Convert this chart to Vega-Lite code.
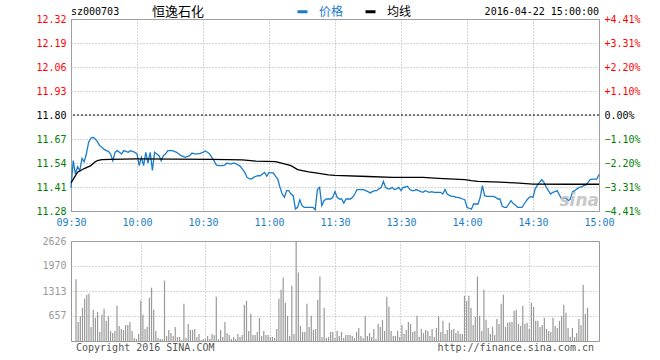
{
"$schema": "https://vega.github.io/schema/vega-lite/v6.json",
"padding": {"left": 35, "top": 5, "right": 0, "bottom": 0},
"background": "white",
"spacing": 7,
"config": {
 "view": {"stroke": "#999999", "strokeWidth": 1},
 "font": "DejaVu Sans Mono",
 "axis": {"labelFont": "DejaVu Sans Mono", "labelFontSize": 10, "ticks": false, "tickSize": 0, "domain": false, "gridColor": "#aaaaaa", "gridDash": [1, 2], "gridOpacity": 1, "title": null, "labelOverlap": false}
},
"datasets": {
 "line": [
{"t":0,"v":11.405,"s":"价格"},{"t":1,"v":11.553,"s":"价格"},{"t":2,"v":11.48,"s":"价格"},{"t":3,"v":11.52,"s":"价格"},{"t":4,"v":11.498,"s":"价格"},{"t":5,"v":11.565,"s":"价格"},{"t":6,"v":11.547,"s":"价格"},{"t":7,"v":11.59,"s":"价格"},{"t":8,"v":11.652,"s":"价格"},{"t":9,"v":11.674,"s":"价格"},
{"t":10,"v":11.679,"s":"价格"},{"t":11,"v":11.67,"s":"价格"},{"t":12,"v":11.656,"s":"价格"},{"t":13,"v":11.634,"s":"价格"},{"t":14,"v":11.625,"s":"价格"},{"t":15,"v":11.615,"s":"价格"},{"t":16,"v":11.607,"s":"价格"},{"t":17,"v":11.603,"s":"价格"},{"t":18,"v":11.589,"s":"价格"},{"t":19,"v":11.553,"s":"价格"},
{"t":20,"v":11.598,"s":"价格"},{"t":21,"v":11.607,"s":"价格"},{"t":22,"v":11.598,"s":"价格"},{"t":23,"v":11.589,"s":"价格"},{"t":24,"v":11.607,"s":"价格"},{"t":25,"v":11.603,"s":"价格"},{"t":26,"v":11.598,"s":"价格"},{"t":27,"v":11.607,"s":"价格"},{"t":28,"v":11.603,"s":"价格"},{"t":29,"v":11.598,"s":"价格"},
{"t":30,"v":11.589,"s":"价格"},{"t":31,"v":11.526,"s":"价格"},{"t":32,"v":11.571,"s":"价格"},{"t":33,"v":11.526,"s":"价格"},{"t":34,"v":11.598,"s":"价格"},{"t":35,"v":11.54,"s":"价格"},{"t":36,"v":11.598,"s":"价格"},{"t":37,"v":11.5,"s":"价格"},{"t":38,"v":11.598,"s":"价格"},{"t":39,"v":11.589,"s":"价格"},
{"t":40,"v":11.58,"s":"价格"},{"t":41,"v":11.553,"s":"价格"},{"t":42,"v":11.58,"s":"价格"},{"t":43,"v":11.59,"s":"价格"},{"t":44,"v":11.607,"s":"价格"},{"t":45,"v":11.607,"s":"价格"},{"t":46,"v":11.607,"s":"价格"},{"t":47,"v":11.603,"s":"价格"},{"t":48,"v":11.598,"s":"价格"},{"t":49,"v":11.589,"s":"价格"},
{"t":50,"v":11.58,"s":"价格"},{"t":51,"v":11.576,"s":"价格"},{"t":52,"v":11.571,"s":"价格"},{"t":53,"v":11.576,"s":"价格"},{"t":54,"v":11.58,"s":"价格"},{"t":55,"v":11.594,"s":"价格"},{"t":56,"v":11.589,"s":"价格"},{"t":57,"v":11.589,"s":"价格"},{"t":58,"v":11.589,"s":"价格"},{"t":59,"v":11.594,"s":"价格"},
{"t":60,"v":11.598,"s":"价格"},{"t":61,"v":11.605,"s":"价格"},{"t":62,"v":11.598,"s":"价格"},{"t":63,"v":11.589,"s":"价格"},{"t":64,"v":11.571,"s":"价格"},{"t":65,"v":11.553,"s":"价格"},{"t":66,"v":11.53,"s":"价格"},{"t":67,"v":11.526,"s":"价格"},{"t":68,"v":11.526,"s":"价格"},{"t":69,"v":11.526,"s":"价格"},
{"t":70,"v":11.53,"s":"价格"},{"t":71,"v":11.54,"s":"价格"},{"t":72,"v":11.535,"s":"价格"},{"t":73,"v":11.535,"s":"价格"},{"t":74,"v":11.54,"s":"价格"},{"t":75,"v":11.535,"s":"价格"},{"t":76,"v":11.529,"s":"价格"},{"t":77,"v":11.522,"s":"价格"},{"t":78,"v":11.505,"s":"价格"},{"t":79,"v":11.489,"s":"价格"},
{"t":80,"v":11.462,"s":"价格"},{"t":81,"v":11.455,"s":"价格"},{"t":82,"v":11.453,"s":"价格"},{"t":83,"v":11.462,"s":"价格"},{"t":84,"v":11.468,"s":"价格"},{"t":85,"v":11.471,"s":"价格"},{"t":86,"v":11.471,"s":"价格"},{"t":87,"v":11.48,"s":"价格"},{"t":88,"v":11.489,"s":"价格"},{"t":89,"v":11.468,"s":"价格"},
{"t":90,"v":11.489,"s":"价格"},{"t":91,"v":11.486,"s":"价格"},{"t":92,"v":11.486,"s":"价格"},{"t":93,"v":11.468,"s":"价格"},{"t":94,"v":11.453,"s":"价格"},{"t":95,"v":11.408,"s":"价格"},{"t":96,"v":11.372,"s":"价格"},{"t":97,"v":11.354,"s":"价格"},{"t":98,"v":11.39,"s":"价格"},{"t":99,"v":11.39,"s":"价格"},
{"t":100,"v":11.372,"s":"价格"},{"t":101,"v":11.363,"s":"价格"},{"t":102,"v":11.291,"s":"价格"},{"t":103,"v":11.3,"s":"价格"},{"t":104,"v":11.341,"s":"价格"},{"t":105,"v":11.309,"s":"价格"},{"t":106,"v":11.3,"s":"价格"},{"t":107,"v":11.3,"s":"价格"},{"t":108,"v":11.3,"s":"价格"},{"t":109,"v":11.3,"s":"价格"},
{"t":110,"v":11.3,"s":"价格"},{"t":111,"v":11.287,"s":"价格"},{"t":112,"v":11.396,"s":"价格"},{"t":113,"v":11.408,"s":"价格"},{"t":114,"v":11.309,"s":"价格"},{"t":115,"v":11.336,"s":"价格"},{"t":116,"v":11.345,"s":"价格"},{"t":117,"v":11.345,"s":"价格"},{"t":118,"v":11.345,"s":"价格"},{"t":119,"v":11.354,"s":"价格"},
{"t":120,"v":11.385,"s":"价格"},{"t":121,"v":11.354,"s":"价格"},{"t":122,"v":11.345,"s":"价格"},{"t":123,"v":11.345,"s":"价格"},{"t":124,"v":11.323,"s":"价格"},{"t":125,"v":11.345,"s":"价格"},{"t":126,"v":11.345,"s":"价格"},{"t":127,"v":11.345,"s":"价格"},{"t":128,"v":11.354,"s":"价格"},{"t":129,"v":11.372,"s":"价格"},
{"t":130,"v":11.396,"s":"价格"},{"t":131,"v":11.396,"s":"价格"},{"t":132,"v":11.396,"s":"价格"},{"t":133,"v":11.396,"s":"价格"},{"t":134,"v":11.39,"s":"价格"},{"t":135,"v":11.385,"s":"价格"},{"t":136,"v":11.378,"s":"价格"},{"t":137,"v":11.385,"s":"价格"},{"t":138,"v":11.39,"s":"价格"},{"t":139,"v":11.39,"s":"价格"},
{"t":140,"v":11.4,"s":"价格"},{"t":141,"v":11.408,"s":"价格"},{"t":142,"v":11.44,"s":"价格"},{"t":143,"v":11.408,"s":"价格"},{"t":144,"v":11.4,"s":"价格"},{"t":145,"v":11.4,"s":"价格"},{"t":146,"v":11.408,"s":"价格"},{"t":147,"v":11.396,"s":"价格"},{"t":148,"v":11.4,"s":"价格"},{"t":149,"v":11.408,"s":"价格"},
{"t":150,"v":11.39,"s":"价格"},{"t":151,"v":11.408,"s":"价格"},{"t":152,"v":11.41,"s":"价格"},{"t":153,"v":11.414,"s":"价格"},{"t":154,"v":11.396,"s":"价格"},{"t":155,"v":11.39,"s":"价格"},{"t":156,"v":11.39,"s":"价格"},{"t":157,"v":11.396,"s":"价格"},{"t":158,"v":11.39,"s":"价格"},{"t":159,"v":11.385,"s":"价格"},
{"t":160,"v":11.381,"s":"价格"},{"t":161,"v":11.39,"s":"价格"},{"t":162,"v":11.385,"s":"价格"},{"t":163,"v":11.381,"s":"价格"},{"t":164,"v":11.385,"s":"价格"},{"t":165,"v":11.381,"s":"价格"},{"t":166,"v":11.381,"s":"价格"},{"t":167,"v":11.381,"s":"价格"},{"t":168,"v":11.381,"s":"价格"},{"t":169,"v":11.372,"s":"价格"},
{"t":170,"v":11.396,"s":"价格"},{"t":171,"v":11.372,"s":"价格"},{"t":172,"v":11.365,"s":"价格"},{"t":173,"v":11.359,"s":"价格"},{"t":174,"v":11.359,"s":"价格"},{"t":175,"v":11.354,"s":"价格"},{"t":176,"v":11.354,"s":"价格"},{"t":177,"v":11.35,"s":"价格"},{"t":178,"v":11.345,"s":"价格"},{"t":179,"v":11.341,"s":"价格"},
{"t":180,"v":11.3,"s":"价格"},{"t":181,"v":11.295,"s":"价格"},{"t":182,"v":11.29,"s":"价格"},{"t":183,"v":11.318,"s":"价格"},{"t":184,"v":11.318,"s":"价格"},{"t":185,"v":11.318,"s":"价格"},{"t":186,"v":11.354,"s":"价格"},{"t":187,"v":11.417,"s":"价格"},{"t":188,"v":11.363,"s":"价格"},{"t":189,"v":11.359,"s":"价格"},
{"t":190,"v":11.359,"s":"价格"},{"t":191,"v":11.359,"s":"价格"},{"t":192,"v":11.359,"s":"价格"},{"t":193,"v":11.354,"s":"价格"},{"t":194,"v":11.345,"s":"价格"},{"t":195,"v":11.345,"s":"价格"},{"t":196,"v":11.305,"s":"价格"},{"t":197,"v":11.3,"s":"价格"},{"t":198,"v":11.3,"s":"价格"},{"t":199,"v":11.318,"s":"价格"},
{"t":200,"v":11.336,"s":"价格"},{"t":201,"v":11.32,"s":"价格"},{"t":202,"v":11.313,"s":"价格"},{"t":203,"v":11.3,"s":"价格"},{"t":204,"v":11.3,"s":"价格"},{"t":205,"v":11.3,"s":"价格"},{"t":206,"v":11.318,"s":"价格"},{"t":207,"v":11.336,"s":"价格"},{"t":208,"v":11.35,"s":"价格"},{"t":209,"v":11.359,"s":"价格"},
{"t":210,"v":11.354,"s":"价格"},{"t":211,"v":11.4,"s":"价格"},{"t":212,"v":11.42,"s":"价格"},{"t":213,"v":11.435,"s":"价格"},{"t":214,"v":11.45,"s":"价格"},{"t":215,"v":11.435,"s":"价格"},{"t":216,"v":11.41,"s":"价格"},{"t":217,"v":11.39,"s":"价格"},{"t":218,"v":11.372,"s":"价格"},{"t":219,"v":11.381,"s":"价格"},
{"t":220,"v":11.385,"s":"价格"},{"t":221,"v":11.39,"s":"价格"},{"t":222,"v":11.367,"s":"价格"},{"t":223,"v":11.345,"s":"价格"},{"t":224,"v":11.35,"s":"价格"},{"t":225,"v":11.35,"s":"价格"},{"t":226,"v":11.336,"s":"价格"},{"t":227,"v":11.345,"s":"价格"},{"t":228,"v":11.385,"s":"价格"},{"t":229,"v":11.39,"s":"价格"},
{"t":230,"v":11.4,"s":"价格"},{"t":231,"v":11.408,"s":"价格"},{"t":232,"v":11.41,"s":"价格"},{"t":233,"v":11.417,"s":"价格"},{"t":234,"v":11.42,"s":"价格"},{"t":235,"v":11.435,"s":"价格"},{"t":236,"v":11.45,"s":"价格"},{"t":237,"v":11.453,"s":"价格"},{"t":238,"v":11.453,"s":"价格"},{"t":239,"v":11.453,"s":"价格"},
{"t":240,"v":11.478,"s":"价格"},
{"t":0,"v":11.432,"s":"均线"},{"t":3,"v":11.49,"s":"均线"},{"t":6,"v":11.51,"s":"均线"},{"t":9,"v":11.526,"s":"均线"},{"t":11,"v":11.547,"s":"均线"},{"t":12,"v":11.553,"s":"均线"},{"t":14,"v":11.558,"s":"均线"},{"t":18,"v":11.56,"s":"均线"},{"t":30,"v":11.562,"s":"均线"},{"t":64,"v":11.56,"s":"均线"},{"t":78,"v":11.557,"s":"均线"},{"t":84,"v":11.55,"s":"均线"},{"t":93,"v":11.547,"s":"均线"},{"t":97,"v":11.535,"s":"均线"},{"t":100,"v":11.526,"s":"均线"},{"t":103,"v":11.504,"s":"均线"},{"t":108,"v":11.492,"s":"均线"},{"t":112,"v":11.485,"s":"均线"},{"t":117,"v":11.476,"s":"均线"},{"t":120,"v":11.473,"s":"均线"},{"t":135,"v":11.467,"s":"均线"},{"t":146,"v":11.462,"s":"均线"},{"t":160,"v":11.462,"s":"均线"},{"t":167,"v":11.457,"s":"均线"},{"t":179,"v":11.45,"s":"均线"},{"t":182,"v":11.445,"s":"均线"},{"t":185,"v":11.441,"s":"均线"},{"t":195,"v":11.436,"s":"均线"},{"t":202,"v":11.432,"s":"均线"},{"t":210,"v":11.426,"s":"均线"},{"t":226,"v":11.425,"s":"均线"},{"t":240,"v":11.425,"s":"均线"}
 ],
 "vol": [
{"t":0,"v":1621},{"t":1,"v":502},{"t":2,"v":652},{"t":3,"v":872},{"t":4,"v":1110},{"t":5,"v":1216},{"t":6,"v":1242},{"t":7,"v":370},{"t":8,"v":819},{"t":9,"v":608},
{"t":10,"v":766},{"t":11,"v":238},{"t":12,"v":687},{"t":13,"v":846},{"t":14,"v":529},{"t":15,"v":652},{"t":16,"v":264},{"t":17,"v":211},{"t":18,"v":264},{"t":19,"v":925},
{"t":20,"v":396},{"t":21,"v":317},{"t":22,"v":291},{"t":23,"v":423},{"t":24,"v":423},{"t":25,"v":502},{"t":26,"v":264},{"t":27,"v":79},{"t":28,"v":53},{"t":29,"v":185},
{"t":30,"v":1057},{"t":31,"v":687},{"t":32,"v":317},{"t":33,"v":370},{"t":34,"v":1137},{"t":35,"v":1401},{"t":36,"v":819},{"t":37,"v":264},{"t":38,"v":79},{"t":39,"v":53},
{"t":40,"v":53},{"t":41,"v":1586},{"t":42,"v":132},{"t":43,"v":291},{"t":44,"v":211},{"t":45,"v":132},{"t":46,"v":370},{"t":47,"v":106},{"t":48,"v":106},{"t":49,"v":26},
{"t":50,"v":978},{"t":51,"v":79},{"t":52,"v":449},{"t":53,"v":291},{"t":54,"v":291},{"t":55,"v":317},{"t":56,"v":106},{"t":57,"v":185},{"t":58,"v":26},{"t":59,"v":53},
{"t":60,"v":53},{"t":61,"v":132},{"t":62,"v":53},{"t":63,"v":185},{"t":64,"v":159},{"t":65,"v":1163},{"t":66,"v":53},{"t":67,"v":291},{"t":68,"v":106},{"t":69,"v":502},
{"t":70,"v":211},{"t":71,"v":159},{"t":72,"v":53},{"t":73,"v":106},{"t":74,"v":53},{"t":75,"v":185},{"t":76,"v":106},{"t":77,"v":159},{"t":78,"v":951},{"t":79,"v":1057},
{"t":80,"v":264},{"t":81,"v":714},{"t":82,"v":159},{"t":83,"v":159},{"t":84,"v":238},{"t":85,"v":608},{"t":86,"v":132},{"t":87,"v":264},{"t":88,"v":159},{"t":89,"v":159},
{"t":90,"v":106},{"t":91,"v":106},{"t":92,"v":79},{"t":93,"v":317},{"t":94,"v":1110},{"t":95,"v":1348},{"t":96,"v":1665},{"t":97,"v":1004},{"t":98,"v":661},{"t":99,"v":132},
{"t":100,"v":1454},{"t":101,"v":185},{"t":102,"v":2626},{"t":103,"v":1797},{"t":104,"v":396},{"t":105,"v":238},{"t":106,"v":238},{"t":107,"v":978},{"t":108,"v":370},{"t":109,"v":661},
{"t":110,"v":291},{"t":111,"v":317},{"t":112,"v":1084},{"t":113,"v":1692},{"t":114,"v":106},{"t":115,"v":872},{"t":116,"v":79},{"t":117,"v":106},{"t":118,"v":238},{"t":119,"v":238},
{"t":120,"v":79},{"t":121,"v":264},{"t":122,"v":132},{"t":123,"v":238},{"t":124,"v":79},{"t":125,"v":159},{"t":126,"v":159},{"t":127,"v":159},{"t":128,"v":132},{"t":129,"v":79},
{"t":130,"v":238},{"t":131,"v":344},{"t":132,"v":132},{"t":133,"v":79},{"t":134,"v":652},{"t":135,"v":132},{"t":136,"v":211},{"t":137,"v":106},{"t":138,"v":317},{"t":139,"v":53},
{"t":140,"v":449},{"t":141,"v":370},{"t":142,"v":555},{"t":143,"v":264},{"t":144,"v":1163},{"t":145,"v":899},{"t":146,"v":264},{"t":147,"v":132},{"t":148,"v":132},{"t":149,"v":264},
{"t":150,"v":106},{"t":151,"v":423},{"t":152,"v":185},{"t":153,"v":291},{"t":154,"v":502},{"t":155,"v":449},{"t":156,"v":238},{"t":157,"v":264},{"t":158,"v":661},{"t":159,"v":106},
{"t":160,"v":317},{"t":161,"v":211},{"t":162,"v":291},{"t":163,"v":264},{"t":164,"v":132},{"t":165,"v":317},{"t":166,"v":106},{"t":167,"v":344},{"t":168,"v":652},{"t":169,"v":238},
{"t":170,"v":529},{"t":171,"v":185},{"t":172,"v":291},{"t":173,"v":476},{"t":174,"v":291},{"t":175,"v":317},{"t":176,"v":211},{"t":177,"v":264},{"t":178,"v":185},{"t":179,"v":185},
{"t":180,"v":1189},{"t":181,"v":1057},{"t":182,"v":1189},{"t":183,"v":872},{"t":184,"v":423},{"t":185,"v":634},{"t":186,"v":1692},{"t":187,"v":661},{"t":188,"v":264},{"t":189,"v":1348},
{"t":190,"v":555},{"t":191,"v":344},{"t":192,"v":185},{"t":193,"v":370},{"t":194,"v":159},{"t":195,"v":581},{"t":196,"v":449},{"t":197,"v":978},{"t":198,"v":1216},{"t":199,"v":370},
{"t":200,"v":476},{"t":201,"v":502},{"t":202,"v":502},{"t":203,"v":793},{"t":204,"v":819},{"t":205,"v":449},{"t":206,"v":396},{"t":207,"v":925},{"t":208,"v":449},{"t":209,"v":476},
{"t":210,"v":317},{"t":211,"v":1004},{"t":212,"v":899},{"t":213,"v":529},{"t":214,"v":529},{"t":215,"v":370},{"t":216,"v":423},{"t":217,"v":608},{"t":218,"v":317},{"t":219,"v":264},
{"t":220,"v":238},{"t":221,"v":608},{"t":222,"v":396},{"t":223,"v":344},{"t":224,"v":529},{"t":225,"v":661},{"t":226,"v":951},{"t":227,"v":740},{"t":228,"v":344},{"t":229,"v":106},
{"t":230,"v":344},{"t":231,"v":106},{"t":232,"v":211},{"t":233,"v":581},{"t":234,"v":423},{"t":235,"v":1480},{"t":236,"v":714},{"t":237,"v":872}
 ]
},
"vconcat": [
 {
  "width": 528,
  "height": 192,
  "resolve": {"axis": {"y": "independent"}},
  "layer": [
   {
    "data": {"name": "line"},
    "mark": {"type": "line", "strokeWidth": 1.3},
    "encoding": {
     "x": {"field": "t", "type": "quantitative", "scale": {"domain": [0, 240], "nice": false, "zero": false},
       "axis": {"values": [0, 30, 60, 90, 120, 150, 180, 210, 240], "grid": true, "labelFlush": false, "labelPadding": 6, "labelColor": "#1a7cc8",
        "labelExpr": "['09:30','10:00','10:30','11:00','11:30','13:30','14:00','14:30','15:00'][round(datum.value/30)]"}},
     "y": {"field": "v", "type": "quantitative", "scale": {"domain": [11.28, 12.32], "nice": false, "zero": false},
       "axis": {"orient": "left", "values": [11.28, 11.41, 11.54, 11.67, 11.8, 11.93, 12.06, 12.19, 12.32], "format": ".2f", "grid": true, "labelPadding": 5,
        "labelColor": {"condition": [{"test": "datum.value > 11.805", "value": "#ff0000"}, {"test": "datum.value < 11.795", "value": "#008000"}], "value": "#000000"}}},
     "color": {"field": "s", "type": "nominal", "scale": {"domain": ["价格", "均线"], "range": ["#1a7cc8", "#000000"]},
       "legend": {"orient": "none", "legendX": 225, "legendY": -14, "direction": "horizontal", "title": null, "symbolType": "stroke", "symbolStrokeWidth": 3, "symbolSize": 100,
        "labelFont": "Noto Sans CJK SC", "labelFontSize": 12, "labelOffset": 10, "columnPadding": 15, "padding": 0,
        "encode": {"labels": {"update": {"fill": {"signal": "datum.label === '价格' ? '#1a7cc8' : '#000000'"}}}}}}
    }
   },
   {
    "data": {"values": [{}]},
    "mark": {"type": "rule", "color": "#000000", "strokeDash": [2, 2], "strokeWidth": 1},
    "encoding": {
     "y": {"datum": 11.8, "type": "quantitative",
       "axis": {"orient": "right", "values": [11.28, 11.41, 11.54, 11.67, 11.8, 11.93, 12.06, 12.19, 12.32], "grid": false, "labelPadding": 5,
        "labelExpr": "(datum.value > 11.805 ? '+' : '') + format((datum.value / 11.8 - 1) * 100, '.2f') + '%'",
        "labelColor": {"condition": [{"test": "datum.value > 11.805", "value": "#ff0000"}, {"test": "datum.value < 11.795", "value": "#008000"}], "value": "#000000"}}}
    }
   },
   {
    "data": {"values": [{}]},
    "mark": {"type": "text", "align": "left", "baseline": "middle", "font": "DejaVu Sans Mono", "fontSize": 10, "color": "#000000"},
    "encoding": {"x": {"datum": 0, "type": "quantitative"}, "y": {"datum": 12.36, "type": "quantitative", "axis": null}, "text": {"value": "sz000703"}}
   },
   {
    "data": {"values": [{}]},
    "mark": {"type": "text", "align": "left", "baseline": "middle", "font": "Noto Sans CJK SC", "fontSize": 13, "color": "#000000"},
    "encoding": {"x": {"datum": 36.8, "type": "quantitative"}, "y": {"datum": 12.36, "type": "quantitative", "axis": null}, "text": {"value": "恒逸石化"}}
   },
   {
    "data": {"values": [{}]},
    "mark": {"type": "text", "align": "right", "baseline": "middle", "font": "DejaVu Sans Mono", "fontSize": 10, "color": "#000000"},
    "encoding": {"x": {"datum": 240, "type": "quantitative"}, "y": {"datum": 12.36, "type": "quantitative", "axis": null}, "text": {"value": "2016-04-22 15:00:00"}}
   },
   {
    "data": {"values": [{}]},
    "mark": {"type": "text", "align": "center", "baseline": "middle", "font": "DejaVu Sans", "fontSize": 17, "fontStyle": "italic", "fontWeight": "bold", "color": "#c8c8c8"},
    "encoding": {"x": {"datum": 231, "type": "quantitative"}, "y": {"datum": 11.332, "type": "quantitative", "axis": null}, "text": {"value": "sina"}}
   }
  ]
 },
 {
  "width": 528,
  "height": 100,
  "resolve": {"axis": {"y": "independent", "x": "independent"}},
  "layer": [
   {
    "data": {"name": "vol"},
    "mark": {"type": "bar", "size": 1.2, "color": "#999999"},
    "encoding": {
     "x": {"field": "t", "type": "quantitative", "scale": {"domain": [0, 240], "nice": false, "zero": false},
       "axis": {"values": [30, 60, 90, 120, 150, 180, 210], "grid": true, "labels": false}},
     "y": {"field": "v", "type": "quantitative", "scale": {"domain": [0, 2626], "nice": false},
       "axis": {"values": [657, 1313, 1970, 2626], "format": "d", "grid": true, "labelPadding": 5, "labelColor": "#999999"}}
    }
   },
   {
    "data": {"values": [{}]},
    "mark": {"type": "text", "align": "left", "baseline": "middle", "font": "DejaVu Sans Mono", "fontSize": 10, "color": "#555555"},
    "encoding": {"x": {"datum": 0, "type": "quantitative", "axis": null}, "y": {"datum": -184, "type": "quantitative", "axis": null}, "text": {"value": "Copyright 2016 SINA.COM"}}
   },
   {
    "data": {"values": [{}]},
    "mark": {"type": "text", "align": "right", "baseline": "middle", "font": "DejaVu Sans Mono", "fontSize": 10, "color": "#555555"},
    "encoding": {"x": {"datum": 240, "type": "quantitative", "axis": null}, "y": {"datum": -184, "type": "quantitative", "axis": null}, "text": {"value": "http://finance.sina.com.cn"}}
   }
  ]
 }
]
}
